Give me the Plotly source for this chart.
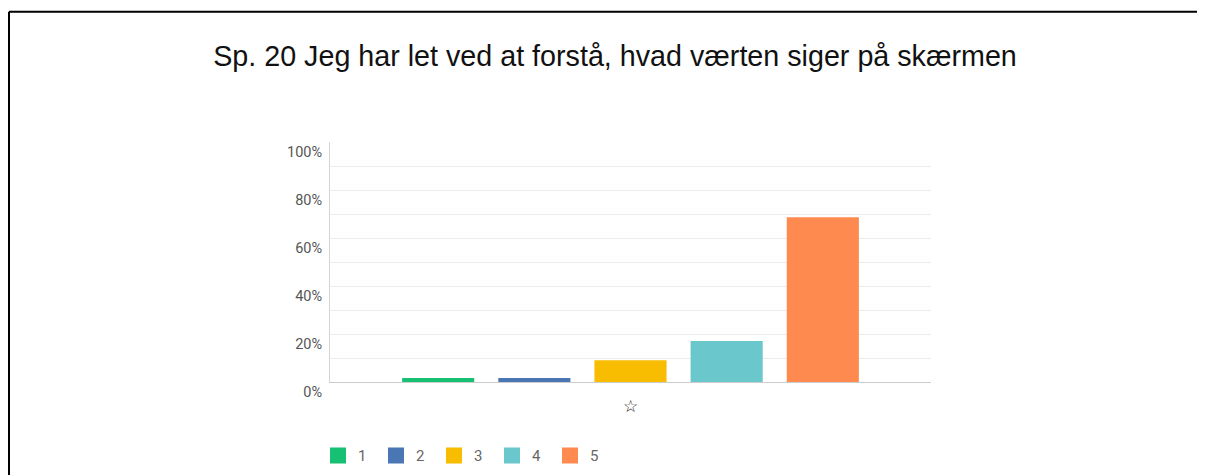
import plotly.graph_objects as go

# ---- data ----
title_text = "Sp. 20 Jeg har let ved at forstå, hvad værten siger på skærmen"
category = ["☆"]
series_names = ["1", "2", "3", "4", "5"]
series_values = [1.7, 1.7, 9.1, 17.1, 68.6]
series_colors = ["#17C072", "#4A77B4", "#F8BC00", "#6AC7CB", "#FF8A50"]
y_tick_values = [0, 20, 40, 60, 80, 100]
y_tick_labels = ["0%", "20%", "40%", "60%", "80%", "100%"]

# ---- layout geometry (pixels, in page coordinates; page body has 8px margin) ----
W, H = 1205, 475
OFF = 8
PLOT_L, PLOT_R, PLOT_T, PLOT_B = 330, 931, 141.5, 383
ML = PLOT_L - OFF
MT = PLOT_T - OFF
MR = W - (PLOT_R - OFF)
MB = H - (PLOT_B - OFF)
PW, PH = PLOT_R - PLOT_L, PLOT_B - PLOT_T


def px_x(px):
    return (px - PLOT_L) / PW


def px_y(py):
    return (PLOT_B - py) / PH


fig = go.Figure()

for name, val, col in zip(series_names, series_values, series_colors):
    fig.add_trace(go.Bar(
        x=category, y=[val], name=name, marker=dict(color=col, line=dict(width=0)),
        showlegend=False, hoverinfo="y",
    ))

# legend entries (legend-only markers)
for name, col in zip(series_names, series_colors):
    fig.add_trace(go.Scatter(
        x=[None], y=[None], mode="markers", name=name,
        marker=dict(symbol="square", size=18, color=col, line=dict(width=0)),
        showlegend=True,
    ))

fig.update_layout(
    width=W, height=H,
    margin=dict(l=ML, r=MR, t=MT, b=MB, pad=0),
    paper_bgcolor="white", plot_bgcolor="white",
    barmode="group", bargap=0.2, bargroupgap=0.25,
    title=dict(
        text=title_text, x=(615 - OFF) / W, xanchor="center", y=1 - (56 - OFF) / H, yanchor="middle",
        yref="container", xref="container",
        font=dict(family="Liberation Sans, Arial", size=28.7, color="#111111"),
    ),
    xaxis=dict(
        type="category", showgrid=False, showline=True, linecolor="#cccccc", linewidth=1,
        ticks="", tickfont=dict(family="DejaVu Sans", size=17, color="#2a2a2a"),
        ticklabelstandoff=9, fixedrange=True,
    ),
    yaxis=dict(
        range=[0, 100], tickvals=y_tick_values, ticktext=y_tick_labels,
        showgrid=True, gridcolor="#ececec", gridwidth=1,
        minor=dict(dtick=10, showgrid=True, gridcolor="#ececec", gridwidth=1),
        showline=True, linecolor="#d4d4d4", linewidth=1, zeroline=False,
        ticks="", ticklabelposition="outside bottom", ticklabelstandoff=4,
        tickfont=dict(family="Roboto", size=14.5, color="#555555"),
        fixedrange=True,
    ),
    legend=dict(
        orientation="h", x=px_x(318), xanchor="left", y=px_y(456), yanchor="middle",
        font=dict(family="Roboto", size=15, color="#666666"),
        entrywidth=13, itemsizing="trace", bgcolor="rgba(0,0,0,0)",
    ),
    shapes=[
        dict(type="line", xref="paper", yref="paper",
             x0=px_x(9), x1=px_x(W + 20), y0=px_y(10.5), y1=px_y(10.5),
             line=dict(color="#000000", width=2)),
        dict(type="line", xref="paper", yref="paper",
             x0=px_x(9), x1=px_x(9), y0=px_y(10.5), y1=px_y(H + 20),
             line=dict(color="#000000", width=2)),
    ],
)

fig.write_html("out.html")
